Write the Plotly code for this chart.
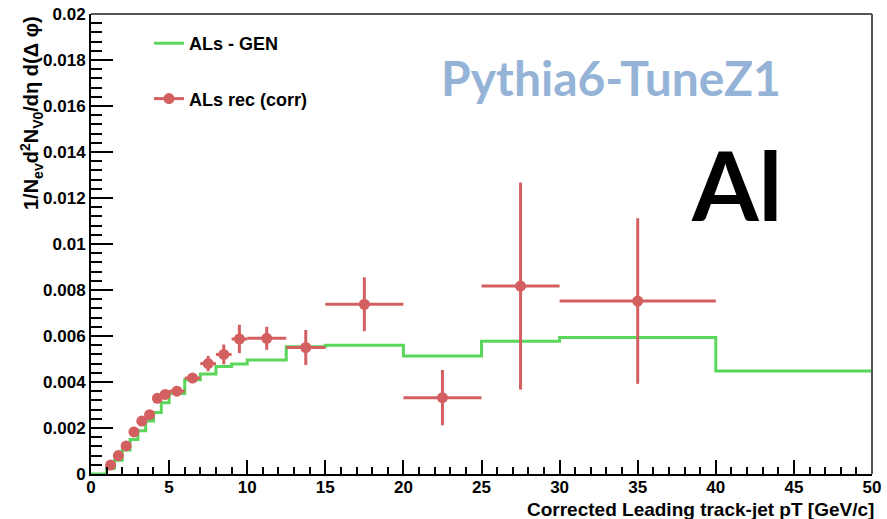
import plotly.graph_objects as go

# ---------------- data ----------------
gen_edges = [0, 1, 1.5, 2, 2.5, 3, 3.5, 4, 4.5, 5, 6, 7, 8, 9, 10, 12.5, 15, 20, 25, 30, 40, 50]
gen_values = [0, 0.00025, 0.0006, 0.00104, 0.0015, 0.00188, 0.0023, 0.00267, 0.0031, 0.0035,
              0.0041, 0.00435, 0.00467, 0.00478, 0.00496, 0.00553, 0.0056, 0.00513, 0.00577,
              0.00593, 0.00448]

rec_x = [1.25, 1.75, 2.25, 2.75, 3.25, 3.75, 4.25, 4.75, 5.5, 6.5, 7.5, 8.5, 9.5, 11.25, 13.75,
         17.5, 22.5, 27.5, 35]
rec_xerr = [0.25, 0.25, 0.25, 0.25, 0.25, 0.25, 0.25, 0.25, 0.5, 0.5, 0.5, 0.5, 0.5, 1.25, 1.25,
            2.5, 2.5, 2.5, 5]
rec_y = [0.00039, 0.0008, 0.00122, 0.00183, 0.0023, 0.00258, 0.00329, 0.00346, 0.0036, 0.00417,
         0.0048, 0.0052, 0.00587, 0.0059, 0.0055, 0.00738, 0.00332, 0.00817, 0.00752]
rec_yerr = [0.00008, 0.0001, 0.0001, 0.00012, 0.00012, 0.00014, 0.00015, 0.00015, 0.00015, 0.0002,
            0.00033, 0.00043, 0.00062, 0.0005, 0.00076, 0.00117, 0.0012, 0.0045, 0.0036]

x_tick_vals = [0, 5, 10, 15, 20, 25, 30, 35, 40, 45, 50]
x_tick_text = ["0", "5", "10", "15", "20", "25", "30", "35", "40", "45", "50"]
y_tick_vals = [0, 0.002, 0.004, 0.006, 0.008, 0.01, 0.012, 0.014, 0.016, 0.018, 0.02]
y_tick_text = ["0", "0.002", "0.004", "0.006", "0.008", "0.01", "0.012", "0.014", "0.016", "0.018", "0.02"]

GREEN = "#5ad65a"
RED = "#d45f60"
AXFONT = "Liberation Sans"

fig = go.Figure()

# step histogram (GEN)
step_x = gen_edges
step_y = gen_values + [gen_values[-1]]
fig.add_trace(go.Scatter(
    x=step_x, y=step_y, mode="lines", line=dict(color=GREEN, width=3, shape="hv"),
    name="<b>ALs - GEN</b>", legendgroup="gen", showlegend=True, hoverinfo="skip"))

# reconstructed points with errors
fig.add_trace(go.Scatter(
    x=rec_x, y=rec_y, mode="markers",
    marker=dict(color=RED, size=11, symbol="circle"),
    error_y=dict(type="data", array=rec_yerr, color=RED, thickness=3, width=0),
    error_x=dict(type="data", array=rec_xerr, color=RED, thickness=3, width=0),
    name="ALs rec (corr)", showlegend=False))

# legend entry for the points (line + marker, like ROOT's "lp" option)
fig.add_trace(go.Scatter(
    x=[None], y=[None], mode="lines+markers",
    line=dict(color=RED, width=3), marker=dict(color=RED, size=11),
    name="<b>ALs rec (corr)</b>", legendgroup="rec", showlegend=True))

L, R, T, B = 91, 15, 14, 45
W, H = 887, 519
PW, PH = W - L - R, H - T - B


def px(X):
    return (X - L) / PW


def py(Y):
    return (H - B - Y) / PH


fig.update_layout(
    width=W, height=H,
    margin=dict(l=L, r=R, t=T, b=B, autoexpand=False),
    paper_bgcolor="white", plot_bgcolor="white",
    showlegend=True,
    legend=dict(x=px(149), y=py(25), xanchor="left", yanchor="top",
                bgcolor="rgba(0,0,0,0)", font=dict(family=AXFONT, size=18, color="black"),
                tracegroupgap=29, itemwidth=30, traceorder="grouped"),
    xaxis=dict(range=[0, 50], tickvals=x_tick_vals, ticktext=x_tick_text, automargin=False,
               ticks="inside", ticklen=14, tickwidth=1.5, tickcolor="black", ticklabelstandoff=-3,
               minor=dict(ticks="inside", ticklen=7, dtick=1, tickwidth=1.5, tickcolor="black"),
               showgrid=False, zeroline=False, showline=True, linecolor="black", linewidth=2,
               tickfont=dict(family=AXFONT, size=17, color="black", weight="bold")),
    yaxis=dict(range=[0, 0.02], tickvals=y_tick_vals, ticktext=y_tick_text, automargin=False,
               ticks="inside", ticklen=22, tickwidth=1.5, tickcolor="black",
               minor=dict(ticks="inside", ticklen=11, dtick=0.0004, tickwidth=1.5, tickcolor="black"),
               showgrid=False, zeroline=False, showline=True, linecolor="black", linewidth=2,
               tickfont=dict(family=AXFONT, size=17, color="black", weight="bold")),
    shapes=[
        dict(type="line", xref="paper", yref="paper", x0=0, x1=1, y0=1, y1=1,
             line=dict(color="#555555", width=2)),
        dict(type="line", xref="paper", yref="paper", x0=1, x1=1, y0=0, y1=1,
             line=dict(color="#555555", width=2)),
    ],
    annotations=[
        dict(text="<b>Corrected Leading track-jet pT [GeV/c]</b>", xref="paper", yref="paper",
             x=1, y=py(509), xanchor="right", yanchor="middle", showarrow=False, xshift=4,
             font=dict(family=AXFONT, size=19, color="black")),
        dict(text="<b>1/N<sub>ev</sub>d<sup>2</sup>N<sub>V0</sub>/d\u03b7 d(\u0394 \u03c6)</b>",
             xref="paper", yref="paper", x=px(31), y=py(14), xanchor="center", yanchor="top",
             textangle=-90, showarrow=False, font=dict(family=AXFONT, size=20, color="black")),
        dict(text="<b>Pythia6-TuneZ1</b>", xref="paper", yref="paper", x=px(611), y=py(77),
             xanchor="center", yanchor="middle", showarrow=False,
             font=dict(family="Lato", size=48, color="#95b3d7")),
        dict(text="<b>Al</b>", xref="paper", yref="paper", x=px(736), y=py(183),
             xanchor="center", yanchor="middle", showarrow=False,
             font=dict(family="Lato", size=96, color="black")),
    ],
)

fig.write_html("out.html", config={"displayModeBar": False},
               post_script="document.body.style.margin='0';"
               "document.body.style.padding='0';window.dispatchEvent(new Event('resize'));")
